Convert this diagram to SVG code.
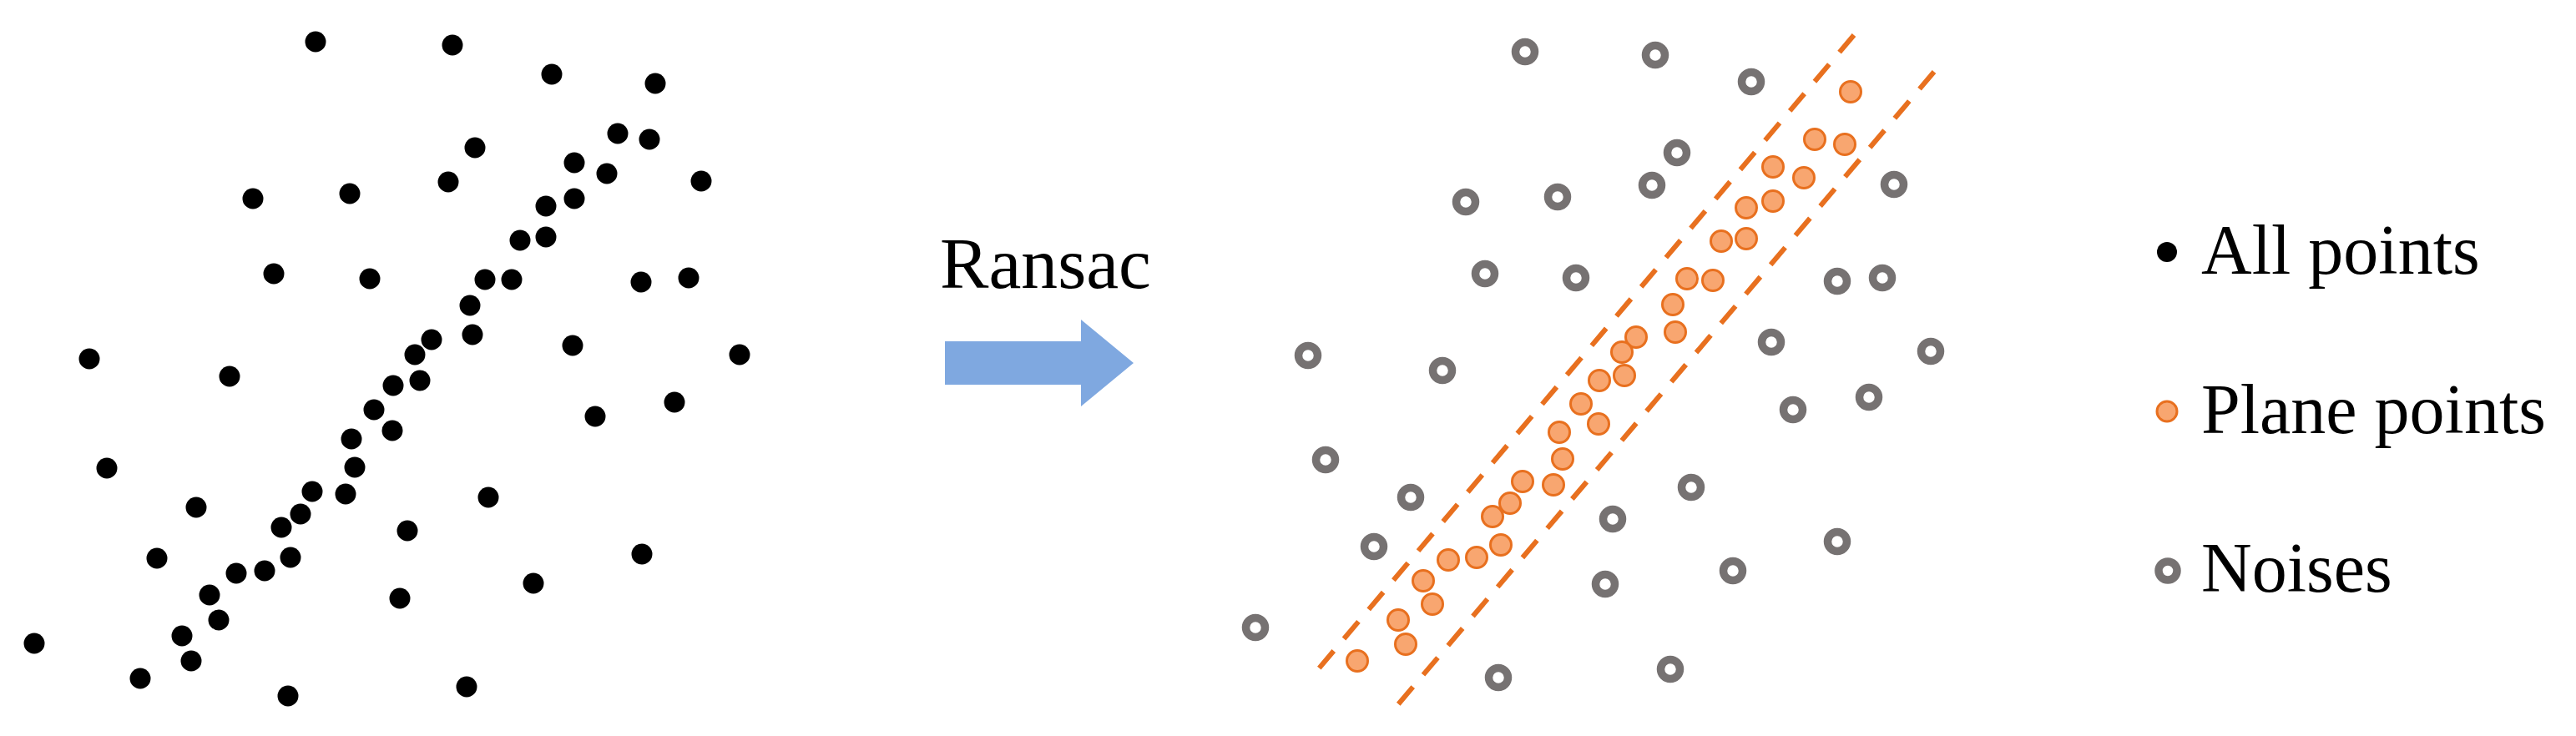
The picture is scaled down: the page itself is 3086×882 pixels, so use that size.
<svg xmlns="http://www.w3.org/2000/svg" width="3086" height="882" viewBox="0 0 3086 882">
<style>
.pt{fill:#000}
.pl{fill:#F8A670;stroke:#E8701F;stroke-width:3}
.nz{fill:none;stroke:#767272;stroke-width:9.5}
.fit{stroke:#E8701F;stroke-width:6;stroke-dasharray:27 19;fill:none}
.txt{font-family:"Liberation Serif","Times New Roman",serif;fill:#000}
</style>
<rect width="3086" height="882" fill="#fff"/>
<g id="all-points">
<circle class="pt" cx="378" cy="50" r="12.5"/>
<circle class="pt" cx="303" cy="238" r="12.5"/>
<circle class="pt" cx="419" cy="232" r="12.5"/>
<circle class="pt" cx="328" cy="328" r="12.5"/>
<circle class="pt" cx="443" cy="334" r="12.5"/>
<circle class="pt" cx="107" cy="430" r="12.5"/>
<circle class="pt" cx="275" cy="451" r="12.5"/>
<circle class="pt" cx="542" cy="54" r="12.5"/>
<circle class="pt" cx="661" cy="89" r="12.5"/>
<circle class="pt" cx="785" cy="100" r="12.5"/>
<circle class="pt" cx="569" cy="177" r="12.5"/>
<circle class="pt" cx="740" cy="160" r="12.5"/>
<circle class="pt" cx="778" cy="167" r="12.5"/>
<circle class="pt" cx="537" cy="218" r="12.5"/>
<circle class="pt" cx="688" cy="195" r="12.5"/>
<circle class="pt" cx="727" cy="208" r="12.5"/>
<circle class="pt" cx="840" cy="217" r="12.5"/>
<circle class="pt" cx="654" cy="247" r="12.5"/>
<circle class="pt" cx="688" cy="238" r="12.5"/>
<circle class="pt" cx="623" cy="288" r="12.5"/>
<circle class="pt" cx="654" cy="284" r="12.5"/>
<circle class="pt" cx="581" cy="335" r="12.5"/>
<circle class="pt" cx="613" cy="335" r="12.5"/>
<circle class="pt" cx="768" cy="338" r="12.5"/>
<circle class="pt" cx="825" cy="333" r="12.5"/>
<circle class="pt" cx="563" cy="366" r="12.5"/>
<circle class="pt" cx="566" cy="401" r="12.5"/>
<circle class="pt" cx="517" cy="407" r="12.5"/>
<circle class="pt" cx="497" cy="425" r="12.5"/>
<circle class="pt" cx="686" cy="414" r="12.5"/>
<circle class="pt" cx="886" cy="425" r="12.5"/>
<circle class="pt" cx="448" cy="491" r="12.5"/>
<circle class="pt" cx="471" cy="462" r="12.5"/>
<circle class="pt" cx="503" cy="456" r="12.5"/>
<circle class="pt" cx="470" cy="516" r="12.5"/>
<circle class="pt" cx="421" cy="526" r="12.5"/>
<circle class="pt" cx="425" cy="560" r="12.5"/>
<circle class="pt" cx="374" cy="589" r="12.5"/>
<circle class="pt" cx="414" cy="592" r="12.5"/>
<circle class="pt" cx="360" cy="616" r="12.5"/>
<circle class="pt" cx="337" cy="632" r="12.5"/>
<circle class="pt" cx="348" cy="668" r="12.5"/>
<circle class="pt" cx="317" cy="684" r="12.5"/>
<circle class="pt" cx="283" cy="687" r="12.5"/>
<circle class="pt" cx="251" cy="713" r="12.5"/>
<circle class="pt" cx="262" cy="743" r="12.5"/>
<circle class="pt" cx="218" cy="762" r="12.5"/>
<circle class="pt" cx="229" cy="792" r="12.5"/>
<circle class="pt" cx="128" cy="561" r="12.5"/>
<circle class="pt" cx="235" cy="608" r="12.5"/>
<circle class="pt" cx="188" cy="669" r="12.5"/>
<circle class="pt" cx="41" cy="771" r="12.5"/>
<circle class="pt" cx="168" cy="813" r="12.5"/>
<circle class="pt" cx="345" cy="834" r="12.5"/>
<circle class="pt" cx="713" cy="499" r="12.5"/>
<circle class="pt" cx="808" cy="482" r="12.5"/>
<circle class="pt" cx="585" cy="596" r="12.5"/>
<circle class="pt" cx="488" cy="636" r="12.5"/>
<circle class="pt" cx="769" cy="664" r="12.5"/>
<circle class="pt" cx="639" cy="699" r="12.5"/>
<circle class="pt" cx="479" cy="717" r="12.5"/>
<circle class="pt" cx="559" cy="823" r="12.5"/>
</g>
<g id="label-ransac">
<text class="txt" x="1126" y="345" font-size="87" textLength="253" lengthAdjust="spacingAndGlyphs">Ransac</text>
</g>
<g id="connectors">
<polygon id="arrow" points="1132,409 1295,409 1295,383 1358,435 1295,487 1295,461 1132,461" fill="#7FA8E0"/>
</g>
<g id="fit-lines">
<line class="fit" x1="2221" y1="42" x2="1575" y2="807"/>
<line class="fit" x1="2317" y1="86" x2="1670" y2="850"/>
</g>
<g id="noises">
<circle class="nz" cx="1827" cy="62" r="11.5"/>
<circle class="nz" cx="1983" cy="66" r="11.5"/>
<circle class="nz" cx="2098" cy="98" r="11.5"/>
<circle class="nz" cx="2009" cy="183" r="11.5"/>
<circle class="nz" cx="1979" cy="222" r="11.5"/>
<circle class="nz" cx="2269" cy="221" r="11.5"/>
<circle class="nz" cx="1756" cy="242" r="11.5"/>
<circle class="nz" cx="1866" cy="236" r="11.5"/>
<circle class="nz" cx="1779" cy="328" r="11.5"/>
<circle class="nz" cx="1888" cy="333" r="11.5"/>
<circle class="nz" cx="2201" cy="337" r="11.5"/>
<circle class="nz" cx="2255" cy="333" r="11.5"/>
<circle class="nz" cx="2122" cy="410" r="11.5"/>
<circle class="nz" cx="2313" cy="421" r="11.5"/>
<circle class="nz" cx="1567" cy="426" r="11.5"/>
<circle class="nz" cx="1728" cy="444" r="11.5"/>
<circle class="nz" cx="1588" cy="551" r="11.5"/>
<circle class="nz" cx="1690" cy="596" r="11.5"/>
<circle class="nz" cx="1646" cy="655" r="11.5"/>
<circle class="nz" cx="1504" cy="752" r="11.5"/>
<circle class="nz" cx="1932" cy="622" r="11.5"/>
<circle class="nz" cx="1923" cy="700" r="11.5"/>
<circle class="nz" cx="1795" cy="812" r="11.5"/>
<circle class="nz" cx="2148" cy="491" r="11.5"/>
<circle class="nz" cx="2239" cy="476" r="11.5"/>
<circle class="nz" cx="2026" cy="584" r="11.5"/>
<circle class="nz" cx="2201" cy="649" r="11.5"/>
<circle class="nz" cx="2076" cy="684" r="11.5"/>
<circle class="nz" cx="2001" cy="802" r="11.5"/>
</g>
<g id="plane-points">
<circle class="pl" cx="2217" cy="110" r="12.5"/>
<circle class="pl" cx="2174" cy="167" r="12.5"/>
<circle class="pl" cx="2210" cy="173" r="12.5"/>
<circle class="pl" cx="2124" cy="200" r="12.5"/>
<circle class="pl" cx="2161" cy="213" r="12.5"/>
<circle class="pl" cx="2124" cy="241" r="12.5"/>
<circle class="pl" cx="2092" cy="249" r="12.5"/>
<circle class="pl" cx="2062" cy="289" r="12.5"/>
<circle class="pl" cx="2092" cy="286" r="12.5"/>
<circle class="pl" cx="2021" cy="334" r="12.5"/>
<circle class="pl" cx="2052" cy="336" r="12.5"/>
<circle class="pl" cx="2004" cy="365" r="12.5"/>
<circle class="pl" cx="2007" cy="398" r="12.5"/>
<circle class="pl" cx="1960" cy="404" r="12.5"/>
<circle class="pl" cx="1943" cy="422" r="12.5"/>
<circle class="pl" cx="1946" cy="450" r="12.5"/>
<circle class="pl" cx="1916" cy="456" r="12.5"/>
<circle class="pl" cx="1894" cy="484" r="12.5"/>
<circle class="pl" cx="1915" cy="508" r="12.5"/>
<circle class="pl" cx="1868" cy="518" r="12.5"/>
<circle class="pl" cx="1872" cy="550" r="12.5"/>
<circle class="pl" cx="1824" cy="577" r="12.5"/>
<circle class="pl" cx="1861" cy="581" r="12.5"/>
<circle class="pl" cx="1809" cy="603" r="12.5"/>
<circle class="pl" cx="1788" cy="619" r="12.5"/>
<circle class="pl" cx="1798" cy="653" r="12.5"/>
<circle class="pl" cx="1769" cy="668" r="12.5"/>
<circle class="pl" cx="1735" cy="671" r="12.5"/>
<circle class="pl" cx="1705" cy="696" r="12.5"/>
<circle class="pl" cx="1716" cy="724" r="12.5"/>
<circle class="pl" cx="1675" cy="743" r="12.5"/>
<circle class="pl" cx="1684" cy="772" r="12.5"/>
<circle class="pl" cx="1626" cy="792" r="12.5"/>
</g>
<g id="legend">
<g id="legend-all">
<circle class="pt" cx="2596" cy="302" r="12"/>
<text class="txt" x="2637" y="328" font-size="84">All points</text>
</g>
<g id="legend-plane">
<circle class="pl" cx="2596" cy="493" r="12"/>
<text class="txt" x="2637" y="519" font-size="84">Plane points</text>
</g>
<g id="legend-noise">
<circle class="nz" cx="2597" cy="684" r="11"/>
<text class="txt" x="2637" y="709" font-size="84">Noises</text>
</g>
</g>
</svg>
